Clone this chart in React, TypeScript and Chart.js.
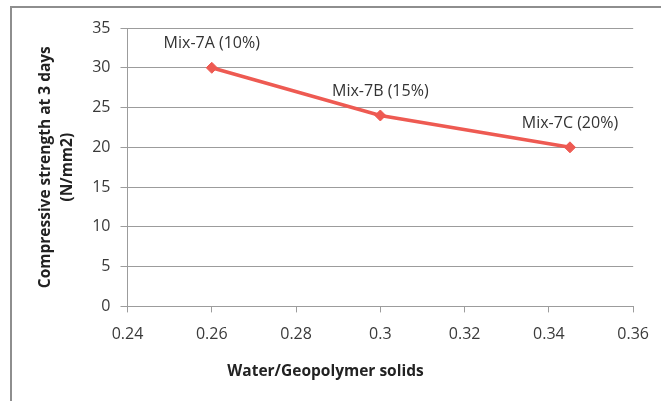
import React, { useEffect, useRef } from 'react';
import { Chart, registerables } from 'chart.js';

Chart.register(...registerables);

const xValues = [0.26, 0.3, 0.345];
const yValues = [30, 24, 20];
const pointLabels = ['Mix-7A (10%)', 'Mix-7B (15%)', 'Mix-7C (20%)'];
const xTitle = 'Water/Geopolymer solids';
const yTitle = ['Compressive strength at 3 days', '(N/mm2)'];
const xMin = 0.24;
const xMax = 0.36;
const xStep = 0.02;
const yMin = 0;
const yMax = 35;
const yStep = 5;

const FONT = '"Open Sans", "DejaVu Sans", sans-serif';
const LINE_COLOR = '#EE5A52';
const GRID_COLOR = '#9c9c9c';

const framePlugin = {
  id: 'frame',
  beforeDraw(chart: any) {
    const ctx = chart.ctx;
    ctx.save();
    ctx.strokeStyle = '#8e8e8e';
    ctx.lineWidth = 2;
    ctx.beginPath();
    ctx.moveTo(11, chart.height);
    ctx.lineTo(11, 7);
    ctx.lineTo(chart.width, 7);
    ctx.stroke();
    ctx.restore();
  },
};

const labelPlugin = {
  id: 'pointLabels',
  afterDatasetsDraw(chart: any) {
    const ctx = chart.ctx;
    const meta = chart.getDatasetMeta(0);
    ctx.save();
    ctx.font = `16px ${FONT}`;
    ctx.fillStyle = '#333333';
    ctx.textAlign = 'center';
    ctx.textBaseline = 'alphabetic';
    meta.data.forEach((pt: any, i: number) => {
      ctx.fillText(pointLabels[i], pt.x, pt.y - 19.5);
    });
    ctx.restore();
  },
};

export default function App() {
  const ref = useRef<HTMLCanvasElement | null>(null);

  useEffect(() => {
    if (!ref.current) return;
    const chart = new Chart(ref.current, {
      type: 'line',
      data: {
        datasets: [
          {
            data: xValues.map((x, i) => ({ x, y: yValues[i] })),
            borderColor: LINE_COLOR,
            backgroundColor: LINE_COLOR,
            borderWidth: 3.5,
            pointStyle: 'rectRot',
            pointRadius: 5.5,
            pointBorderWidth: 1,
            pointBackgroundColor: LINE_COLOR,
            pointBorderColor: LINE_COLOR,
            tension: 0,
            fill: false,
          },
        ],
      },
      options: {
        responsive: false,
        animation: false,
        layout: { padding: { left: 0, right: 10, top: 28, bottom: 0 } },
        plugins: {
          legend: { display: false },
          tooltip: { enabled: false },
          title: {
            display: true,
            position: 'bottom',
            text: xTitle,
            color: '#222222',
            font: { family: FONT, size: 15.5, weight: 'bold', lineHeight: 1.2 },
            padding: { top: 0, bottom: 20 },
          },
        },
        scales: {
          x: {
            type: 'linear',
            min: xMin,
            max: xMax,
            grid: {
              drawOnChartArea: false,
              drawTicks: true,
              tickLength: 6,
              color: GRID_COLOR,
            },
            border: { display: true, color: GRID_COLOR, width: 1 },
            ticks: {
              stepSize: xStep,
              color: '#3a3a3a',
              font: { family: FONT, size: 16 },
              padding: 12,
              callback: (v: any) => String(Number(Number(v).toFixed(2))),
            },
            afterFit: (s: any) => {
              s.height = 56;
            },
          },
          y: {
            type: 'linear',
            min: yMin,
            max: yMax,
            grid: {
              drawTicks: true,
              tickLength: 7,
              color: GRID_COLOR,
            },
            border: { display: true, color: GRID_COLOR, width: 1 },
            ticks: {
              stepSize: yStep,
              color: '#3a3a3a',
              font: { family: FONT, size: 16 },
              padding: 10,
            },
            title: {
              display: true,
              text: yTitle,
              color: '#222222',
              font: { family: FONT, size: 15.5, weight: 'bold', lineHeight: 1.42 },
              padding: { top: 34.5, bottom: 0 },
            },
            afterFit: (s: any) => {
              s.width = 127.5;
            },
          },
          y2: {
            type: 'linear',
            position: 'right',
            display: true,
            grid: { display: false },
            border: { display: false },
            ticks: { display: false },
            afterFit: (s: any) => {
              s.width = 16;
            },
          },
        },
      },
      plugins: [framePlugin, labelPlugin],
    });
    return () => chart.destroy();
  }, []);

  return (
    <div style={{ position: 'fixed', left: 0, top: 0, width: 661, height: 401, background: '#ffffff' }}>
      <canvas ref={ref} width={661} height={401} style={{ display: 'block', width: 661, height: 401 }} />
    </div>
  );
}
